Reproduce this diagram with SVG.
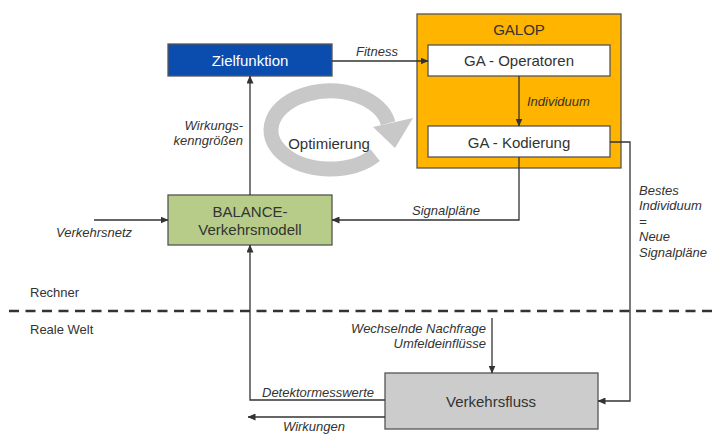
<svg xmlns="http://www.w3.org/2000/svg" width="723" height="434" viewBox="0 0 723 434">
<style>
.box{stroke:#555;stroke-width:1.3}
.t{font-family:"Liberation Sans",Arial,sans-serif;font-size:15px;fill:#333}
.lbl{font-family:"Liberation Sans",Arial,sans-serif;font-size:13px;font-style:italic;fill:#333}
.plain{font-family:"Liberation Sans",Arial,sans-serif;font-size:13px;fill:#333}
.c{fill:none;stroke:#333;stroke-width:1.3}
</style>
<defs>
<marker id="ah" markerUnits="userSpaceOnUse" markerWidth="8" markerHeight="7" refX="7.5" refY="3.5" orient="auto">
<path d="M0,0 L8,3.5 L0,7 z" fill="#333"/>
</marker>
</defs>
<rect width="723" height="434" fill="#fff"/>

<g id="optimierung">
<path d="M375.2,155.1 A59 39 0 1 1 388.1,123.2" fill="none" stroke="#C8C8C8" stroke-width="15"/>
<polygon points="373,127 413,118 395,148" fill="#C8C8C8"/>
<text class="t" x="329" y="149" text-anchor="middle">Optimierung</text>
</g>

<g id="galop">
<rect class="box" x="417" y="14" width="204" height="154" fill="#FFB400" stroke="#7a7a7a"/>
<text class="t" x="519" y="34.5" text-anchor="middle">GALOP</text>
</g>
<g id="ga-operatoren">
<rect class="box" x="428" y="45" width="182" height="31" fill="#fff" stroke="#333"/>
<text class="t" x="519" y="66" text-anchor="middle">GA - Operatoren</text>
</g>
<g id="ga-kodierung">
<rect class="box" x="428" y="126" width="182" height="31" fill="#fff" stroke="#333"/>
<text class="t" x="519" y="148" text-anchor="middle">GA - Kodierung</text>
</g>
<g id="zielfunktion">
<rect class="box" x="168" y="44" width="164" height="32" fill="#0A4DAF"/>
<text class="t" x="250" y="66" text-anchor="middle" style="fill:#fff">Zielfunktion</text>
</g>
<g id="balance">
<rect class="box" x="168" y="195" width="164" height="50" fill="#B6CC88"/>
<text class="t" x="250" y="217" text-anchor="middle">BALANCE-</text>
<text class="t" x="250" y="235" text-anchor="middle">Verkehrsmodell</text>
</g>
<g id="verkehrsfluss">
<rect class="box" x="385" y="373" width="213" height="56" fill="#CCCCCC"/>
<text class="t" x="491" y="407" text-anchor="middle">Verkehrsfluss</text>
</g>

<g id="connectors">
<path class="c" d="M332,61 H428" marker-end="url(#ah)"/>
<path class="c" d="M519,76 V126" marker-end="url(#ah)"/>
<path class="c" d="M610,142 H630 V401 H598" marker-end="url(#ah)"/>
<path class="c" d="M519,157 V220 H332" marker-end="url(#ah)"/>
<path class="c" d="M94,220 H168" marker-end="url(#ah)"/>
<path class="c" d="M250,195 V76" marker-end="url(#ah)"/>
<path class="c" d="M385,400 H250 V245" marker-end="url(#ah)"/>
<path class="c" d="M385,417 H248" marker-end="url(#ah)"/>
<path class="c" d="M492,318 V373" marker-end="url(#ah)"/>
</g>

<g id="labels">
<text class="lbl" x="356" y="56">Fitness</text>
<text class="lbl" x="527" y="106">Individuum</text>
<text class="lbl" x="243" y="130" text-anchor="end">Wirkungs-</text>
<text class="lbl" x="243" y="145" text-anchor="end">kenngrößen</text>
<text class="lbl" x="412" y="214.5">Signalpläne</text>
<text class="lbl" x="56" y="237">Verkehrsnetz</text>
<text class="lbl" x="639" y="194.5">Bestes</text>
<text class="lbl" x="639" y="210">Individuum</text>
<text class="lbl" x="639" y="225.5">=</text>
<text class="lbl" x="639" y="241">Neue</text>
<text class="lbl" x="639" y="256.5">Signalpläne</text>
<text class="lbl" x="486" y="332.5" text-anchor="end">Wechselnde Nachfrage</text>
<text class="lbl" x="486" y="347.5" text-anchor="end">Umfeldeinflüsse</text>
<text class="lbl" x="262" y="397">Detektormesswerte</text>
<text class="lbl" x="283" y="430.5">Wirkungen</text>
</g>

<g id="separator">
<path d="M9,311 H718" stroke="#333" stroke-width="2.5" stroke-dasharray="10 6.5" fill="none"/>
<text class="plain" x="30" y="297">Rechner</text>
<text class="plain" x="30" y="334">Reale Welt</text>
</g>
</svg>
